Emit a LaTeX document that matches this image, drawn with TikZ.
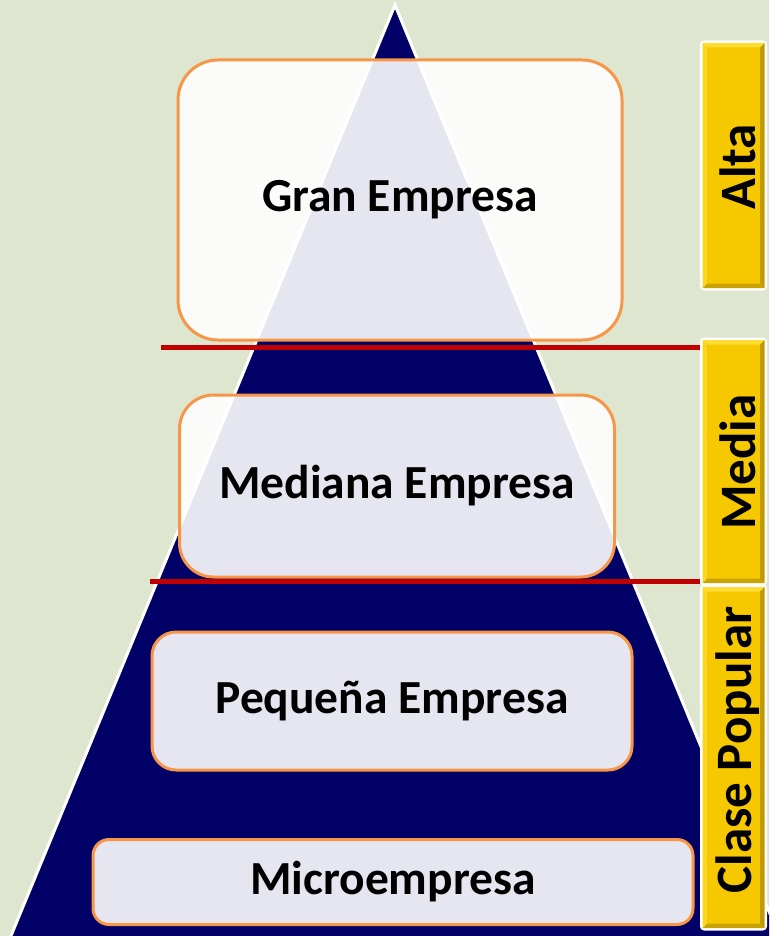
\documentclass[tikz,border=0pt]{standalone}
\usepackage{fontspec}
\setmainfont{Carlito}
\usetikzlibrary{shadows}
\definecolor{bgc}{HTML}{DEE6CF}
\definecolor{navy}{HTML}{000066}
\definecolor{orangeb}{HTML}{F79646}
\definecolor{redl}{HTML}{C00000}
\definecolor{yel}{HTML}{F5C800}
\definecolor{yellt}{HTML}{FFDD33}
\definecolor{yeldk}{HTML}{BF9A00}
\tikzset{
  tier/.style={draw=orangeb, line width=3pt, fill=white, fill opacity=0.9, text opacity=1,
    font=\fontsize{47.5}{52}\selectfont\bfseries, inner sep=0pt},
  sep/.style={draw=redl, line width=5pt},
  labbox/.style={draw=white, line width=5pt, fill=yel, rounded corners=2pt,
    drop shadow={opacity=0.3, shadow xshift=1pt, shadow yshift=-1pt}},
  labtext/.style={rotate=90, font=\fontsize{51}{55}\selectfont\bfseries, inner sep=0pt}
}
\begin{document}
\begin{tikzpicture}[x=1pt,y=-1pt]
\useasboundingbox (0,0) rectangle (769,936);
\fill[bgc] (0,0) rectangle (769,936);
\begin{scope}
\clip (0,0) rectangle (769,936);
\draw[white, line width=3pt, fill=navy] (395,5) -- (1,960) -- (789,960) -- cycle;
\end{scope}
% tier boxes
\node[tier, rounded corners=40pt, minimum width=444pt, minimum height=280pt] (gran) at (400,200) {Gran Empresa};
\node[tier, rounded corners=34pt, minimum width=435pt, minimum height=182pt] (mediana) at (397,486) {Mediana Empresa};
\node[tier, rounded corners=24pt, minimum width=480pt, minimum height=138pt] (pequena) at (392,701) {Pequeña Empresa};
\node[tier, rounded corners=16pt, minimum width=600pt, minimum height=85pt] (micro) at (393,882) {Microempresa};
% right labels
\node[labbox, minimum width=62pt, minimum height=245pt] (alta) at (733.5,165.5) {};
\node[labbox, minimum width=62pt, minimum height=243pt] (media) at (733.5,461.5) {};
\node[labbox, minimum width=62pt, minimum height=341pt] (clase) at (733.5,757.5) {};
\foreach \b in {alta,media,clase}{
  % top (lighter)
  \fill[yellt] ([shift={(2.5,2.5)}]\b.north west) -- ([shift={(-2.5,2.5)}]\b.north east) -- ([shift={(-7,7)}]\b.north east) -- ([shift={(7,7)}]\b.north west) -- cycle;
  % right (darker)
  \fill[yeldk] ([shift={(-2.5,2.5)}]\b.north east) -- ([shift={(-2.5,-2.5)}]\b.south east) -- ([shift={(-7,-7)}]\b.south east) -- ([shift={(-7,7)}]\b.north east) -- cycle;
  % bottom (darker)
  \fill[yeldk!80!yel] ([shift={(2.5,-2.5)}]\b.south west) -- ([shift={(-2.5,-2.5)}]\b.south east) -- ([shift={(-7,-7)}]\b.south east) -- ([shift={(7,-7)}]\b.south west) -- cycle;
  % left (light)
  \fill[yellt!60!yel] ([shift={(2.5,2.5)}]\b.north west) -- ([shift={(2.5,-2.5)}]\b.south west) -- ([shift={(7,-7)}]\b.south west) -- ([shift={(7,7)}]\b.north west) -- cycle;
}
\node[labtext] (altat) at (738,167) {Alta};
\node[labtext] (mediat) at (738,462) {Media};
\node[labtext] (claset) at (738,750) {Clase Popular};
% separators
\coordinate (s1a) at (161,347);
\coordinate (s2a) at (150,581);
\draw[sep] (s1a) -- (s1a -| media.west);
\draw[sep] (s2a) -- (s2a -| clase.west);
\end{tikzpicture}
\end{document}
